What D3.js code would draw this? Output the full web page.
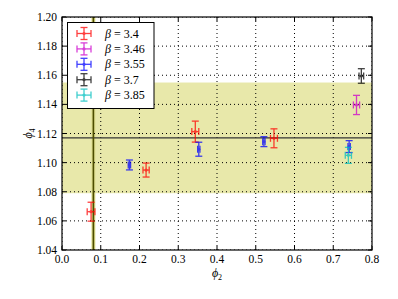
<!DOCTYPE html>
<html>
<head>
<meta charset="utf-8">
<script src="https://cdn.jsdelivr.net/npm/d3@7"></script>
<style>
  body { margin: 0; background: #fff; }
  text { font-family: "Liberation Serif", "DejaVu Serif", serif; }
</style>
</head>
<body>
<script>
// data
const betas = ["3.4", "3.46", "3.55", "3.7", "3.85"];
const colors = ["#ff0000", "#cc00cc", "#0000ff", "#000000", "#00bfbf"];

const phi2 = [
  [0.075, 0.217, 0.344, 0.547],
  [0.760],
  [0.174, 0.353, 0.521, 0.741],
  [0.7725],
  [0.739]
];
const phi4 = [
  [1.0663, 1.0949, 1.1213, 1.1167],
  [1.1396],
  [1.0984, 1.1092, 1.1144, 1.111],
  [1.1595],
  [1.105]
];
const phi2Err = [
  [0.010, 0.008, 0.009, 0.009],
  [0.008],
  [0.003, 0.003, 0.003, 0.003],
  [0.006],
  [0.008]
];
const phi4Err = [
  [0.0065, 0.0048, 0.0072, 0.0065],
  [0.0066],
  [0.0034, 0.0048, 0.0034, 0.0041],
  [0.005],
  [0.0055]
];

const bandMean = 1.117;
const bandErr = 0.038;
const vLine = 0.081;
const vLineErr = 0.005;

const xTicks = [0.0, 0.1, 0.2, 0.3, 0.4, 0.5, 0.6, 0.7, 0.8];
const yTicks = [1.04, 1.06, 1.08, 1.10, 1.12, 1.14, 1.16, 1.18, 1.20];

const w = 398;
const h = 299;
const mLeft = 62, mTop = 17, pw = 310, ph = 233;

const svg = d3.select("body").append("svg").attr("width", w).attr("height", h);

const x = d3.scaleLinear().domain([0, 0.8]).range([mLeft, mLeft + pw]);
const y = d3.scaleLinear().domain([1.04, 1.20]).range([mTop + ph, mTop]);

// clip for plot area
svg.append("clipPath").attr("id", "clip")
  .append("rect").attr("x", mLeft).attr("y", mTop).attr("width", pw).attr("height", ph);
const plot = svg.append("g").attr("clip-path", "url(#clip)");

// horizontal band
plot.append("rect")
  .attr("x", mLeft).attr("width", pw)
  .attr("y", y(bandMean + bandErr))
  .attr("height", y(bandMean - bandErr) - y(bandMean + bandErr))
  .style("fill", "#e8e8aa");

// vertical band
plot.append("rect")
  .attr("x", x(vLine - vLineErr))
  .attr("width", x(vLine + vLineErr) - x(vLine - vLineErr))
  .attr("y", mTop).attr("height", ph)
  .style("fill", "#dcdc8c");

// grid
plot.selectAll(".gx").data(xTicks).enter().append("line")
  .attr("x1", d => x(d)).attr("x2", d => x(d))
  .attr("y1", mTop).attr("y2", mTop + ph)
  .style("stroke", "#000").style("stroke-width", 1)
  .style("stroke-dasharray", "1,3");
plot.selectAll(".gy").data(yTicks).enter().append("line")
  .attr("y1", d => y(d)).attr("y2", d => y(d))
  .attr("x1", mLeft).attr("x2", mLeft + pw)
  .style("stroke", "#000").style("stroke-width", 1)
  .style("stroke-dasharray", "1,3");

// mean lines
plot.append("line")
  .attr("x1", mLeft).attr("x2", mLeft + pw)
  .attr("y1", y(bandMean)).attr("y2", y(bandMean))
  .style("stroke", "#333").style("stroke-width", 1.2);
plot.append("line")
  .attr("x1", x(vLine)).attr("x2", x(vLine))
  .attr("y1", mTop).attr("y2", mTop + ph)
  .style("stroke", "#4d4d00").style("stroke-width", 1.6);

// error bars
const cap = 3.5;
function errBar(g, cx, cy, dx, dy, color) {
  const s = g.append("g").style("stroke", color).style("stroke-width", 1.3)
    .style("opacity", 0.75);
  s.append("line").attr("x1", cx).attr("x2", cx).attr("y1", cy - dy).attr("y2", cy + dy);
  s.append("line").attr("x1", cx - dx).attr("x2", cx + dx).attr("y1", cy).attr("y2", cy);
  s.append("line").attr("x1", cx - cap).attr("x2", cx + cap).attr("y1", cy - dy).attr("y2", cy - dy);
  s.append("line").attr("x1", cx - cap).attr("x2", cx + cap).attr("y1", cy + dy).attr("y2", cy + dy);
  s.append("line").attr("x1", cx - dx).attr("x2", cx - dx).attr("y1", cy - cap).attr("y2", cy + cap);
  s.append("line").attr("x1", cx + dx).attr("x2", cx + dx).attr("y1", cy - cap).attr("y2", cy + cap);
  s.append("circle").attr("cx", cx).attr("cy", cy).attr("r", 1.6)
    .style("fill", color).style("stroke", "none");
}

betas.forEach(function (b, i) {
  phi2[i].forEach(function (v, j) {
    const cx = x(v), cy = y(phi4[i][j]);
    const dx = x(v + phi2Err[i][j]) - cx;
    const dy = cy - y(phi4[i][j] + phi4Err[i][j]);
    errBar(svg, cx, cy, dx, dy, colors[i]);
  });
});

// frame
svg.append("rect").attr("x", mLeft).attr("y", mTop).attr("width", pw).attr("height", ph)
  .style("fill", "none").style("stroke", "#000").style("stroke-width", 1.2);

// ticks (inside, all four sides)
const tl = 4;
xTicks.forEach(function (d) {
  svg.append("line").attr("x1", x(d)).attr("x2", x(d)).attr("y1", mTop + ph).attr("y2", mTop + ph - tl).style("stroke", "#000");
  svg.append("line").attr("x1", x(d)).attr("x2", x(d)).attr("y1", mTop).attr("y2", mTop + tl).style("stroke", "#000");
});
yTicks.forEach(function (d) {
  svg.append("line").attr("x1", mLeft).attr("x2", mLeft + tl).attr("y1", y(d)).attr("y2", y(d)).style("stroke", "#000");
  svg.append("line").attr("x1", mLeft + pw).attr("x2", mLeft + pw - tl).attr("y1", y(d)).attr("y2", y(d)).style("stroke", "#000");
});

// tick labels
svg.selectAll(".xl").data(xTicks).enter().append("text")
  .attr("x", d => x(d)).attr("y", mTop + ph + 13)
  .attr("text-anchor", "middle").style("font-size", "11.5px")
  .text(d => d.toFixed(1));
svg.selectAll(".yl").data(yTicks).enter().append("text")
  .attr("x", mLeft - 5).attr("y", d => y(d) + 4)
  .attr("text-anchor", "end").style("font-size", "11.5px")
  .text(d => d.toFixed(2));

// axis labels
const xl = svg.append("text").attr("x", x(0.4)).attr("y", 277)
  .attr("text-anchor", "middle").style("font-size", "12px");
xl.append("tspan").style("font-style", "italic").text("ϕ");
xl.append("tspan").attr("dy", 3).style("font-size", "8px").text("2");

const yl = svg.append("text")
  .attr("transform", "translate(32," + y(1.12) + ") rotate(-90)")
  .attr("text-anchor", "middle").style("font-size", "12px");
yl.append("tspan").style("font-style", "italic").text("ϕ");
yl.append("tspan").attr("dy", 3).style("font-size", "8px").text("4");

// legend
const lg = svg.append("g");
lg.append("rect").attr("x", 67.5).attr("y", 22.5).attr("width", 86.5).attr("height", 86)
  .style("fill", "#fff").style("stroke", "#000").style("stroke-width", 1);
betas.forEach(function (b, i) {
  const ry = 33.5 + i * 15.4;
  errBar(lg, 84, ry, 7, 6, colors[i]);
  const t = lg.append("text").attr("x", 105).attr("y", ry + 4).style("font-size", "12px");
  t.append("tspan").style("font-style", "italic").text("β");
  t.append("tspan").text(" = " + b);
});
</script>
</body>
</html>
